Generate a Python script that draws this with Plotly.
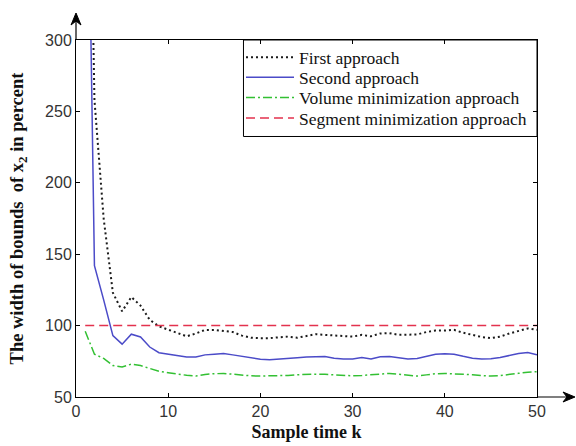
import plotly.graph_objects as go

k = list(range(1, 51))

first_approach = [620, 258, 175, 123, 110, 120, 114, 104, 99.5, 97,
                  95, 92.5, 94.5, 97, 97, 96, 95.5, 93, 91.5, 91.2,
                  91.2, 91.8, 92.3, 91.5, 92.5, 94, 93.5, 93, 92.5, 92.3,
                  93.5, 92.5, 94.5, 94.7, 93.5, 93.5, 93.8, 95.5, 96.5, 96.5,
                  97, 95, 93.5, 92, 91.2, 92.3, 94.5, 96.5, 98, 97]

second_approach = [560, 142, 118, 93, 87, 94, 92, 85, 81, 80,
                   79, 78, 78, 79.5, 80, 80.5, 79.5, 78.5, 77, 76.5,
                   76, 76.3, 76.8, 77.4, 78, 78.3, 78.3, 77.2, 76.6, 76.6,
                   77.6, 76.6, 78.2, 78.3, 77.3, 76.6, 77, 78.3, 80, 80.2,
                   80, 78.5, 77.2, 76.6, 76.8, 77.6, 79.2, 80.5, 81.2, 79.5]

volume_min = [96, 80, 77, 72, 71, 73, 72, 70, 68, 67,
              66, 65.2, 64.7, 65.8, 66.3, 66.5, 66, 65.2, 64.8, 64.7,
              64.7, 64.9, 65.1, 65.6, 66, 66, 65.9, 65.4, 64.8, 64.8,
              65.1, 65.3, 66, 66.5, 65.8, 65.1, 64.7, 65.5, 66.3, 66.5,
              66.3, 66.1, 65.6, 65, 64.7, 65, 66, 66.6, 67.3, 67.7]

segment_min = [100] * 50

series_names = ["First approach", "Second approach",
                "Volume minimization approach", "Segment minimization approach"]

x_ticks = [0, 10, 20, 30, 40, 50]
y_ticks = [50, 100, 150, 200, 250, 300]

fig = go.Figure()
fig.add_trace(go.Scatter(x=k, y=first_approach, mode="lines", name=series_names[0],
                         legend="legend",
                         line=dict(color="#1a1a1a", width=2, dash="2px,3px")))
fig.add_trace(go.Scatter(x=k, y=second_approach, mode="lines", name=series_names[1],
                         legend="legend2",
                         line=dict(color="#4b4bc8", width=1.5)))
fig.add_trace(go.Scatter(x=k, y=volume_min, mode="lines", name=series_names[2],
                         legend="legend3",
                         line=dict(color="#33c033", width=1.5, dash="9px,3px,2px,3px")))
fig.add_trace(go.Scatter(x=k, y=segment_min, mode="lines", name=series_names[3],
                         legend="legend4",
                         line=dict(color="#e3324e", width=1.5, dash="9px,5px")))

axis_common = dict(showline=True, linecolor="black", linewidth=1, mirror="ticks",
                   ticks="inside", ticklen=4, tickcolor="black", showgrid=False, zeroline=False,
                   automargin=False,
                   tickfont=dict(family="Liberation Sans", size=16, color="#333333"))

# decorations: axis arrows and legend frame (paper coordinates)
deco_shapes = [
    dict(type="line", xref="paper", yref="paper", x0=0, y0=1, x1=0, y1=1.07,
         line=dict(color="black", width=1.2)),
    dict(type="path", xref="paper", yref="paper",
         path="M 0,1.0756 L 0.0108,1.0420 L 0,1.0530 L -0.0108,1.0420 Z",
         fillcolor="black", line=dict(color="black", width=1)),
    dict(type="line", xref="paper", yref="paper", x0=1, y0=0, x1=1.075, y1=0,
         line=dict(color="black", width=1.2)),
    dict(type="path", xref="paper", yref="paper",
         path="M 1.0824,0 L 1.0564,0.014 L 1.0650,0 L 1.0564,-0.014 Z",
         fillcolor="black", line=dict(color="black", width=1)),
    dict(type="rect", xref="paper", yref="paper", x0=0.3633, y0=0.7297, x1=1, y1=1,
         line=dict(color="black", width=1), fillcolor="rgba(0,0,0,0)"),
]

legend_x = (241 - 76) / 461
legend_rows = [0.9510, 0.8950, 0.8389, 0.7815]


def legend_box(yc):
    return dict(x=legend_x, y=yc, xanchor="left", yanchor="middle",
                bgcolor="rgba(0,0,0,0)", borderwidth=0,
                font=dict(family="Liberation Serif", size=17.5, color="#111111"),
                itemwidth=48, tracegroupgap=0)


fig.update_layout(
    width=576, height=446,
    margin=dict(l=76, r=39, t=40, b=49),
    paper_bgcolor="white", plot_bgcolor="white",
    showlegend=True,
    legend=legend_box(legend_rows[0]),
    legend2=legend_box(legend_rows[1]),
    legend3=legend_box(legend_rows[2]),
    legend4=legend_box(legend_rows[3]),
    xaxis=dict(range=[0, 50], tickvals=x_ticks,
               title=dict(text="<b>Sample time k</b>", standoff=6,
                          font=dict(family="Liberation Serif", size=18, color="#111111")),
               **axis_common),
    yaxis=dict(range=[50, 300], tickvals=y_ticks,
               title=dict(text="<b>The width of bounds  of x<sub>2</sub> in percent</b>", standoff=16,
                          font=dict(family="Liberation Serif", size=18.5, color="#111111")),
               **axis_common),
    shapes=deco_shapes,
)

fig.write_html("out.html", config={"displayModeBar": False},
               post_script="document.body.style.margin='0';")
